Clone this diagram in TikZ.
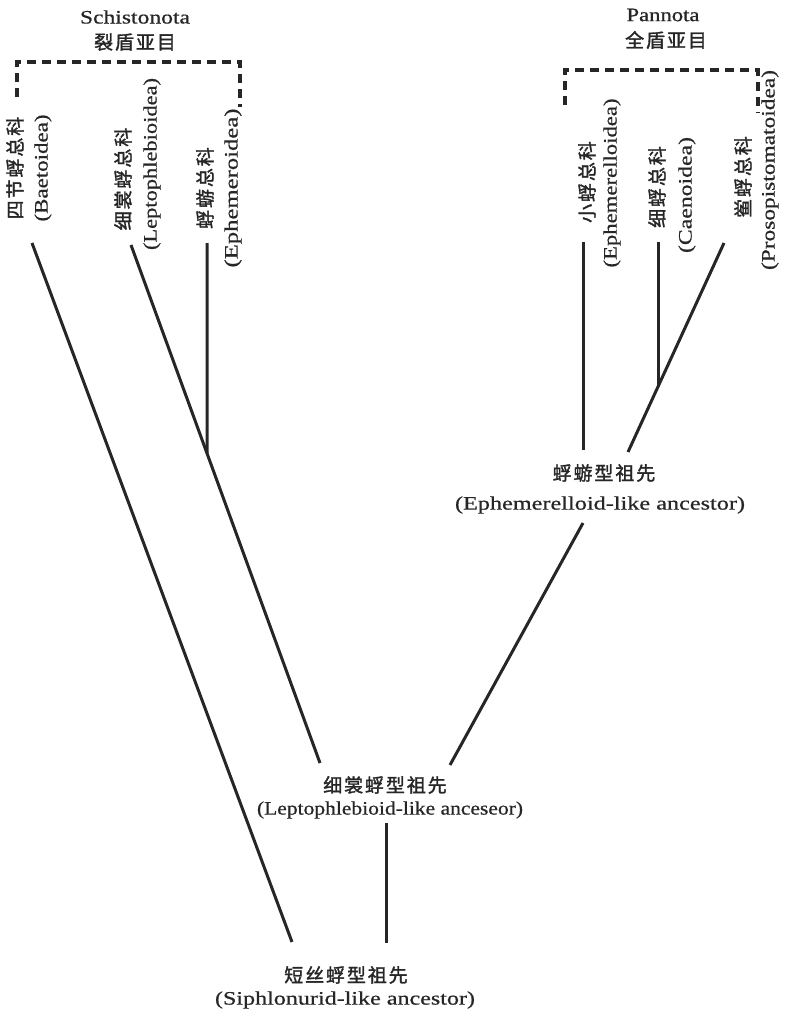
\documentclass[tikz,border=0pt]{standalone}
\usepackage{fontspec}
\usepackage{graphicx}
\setmainfont{Liberation Serif}[FakeBold=0.6]
\newfontfamily\cjk{Noto Sans CJK SC}[FakeBold=1.6,LetterSpace=10]
\newcommand{\lat}[2]{\resizebox{#1pt}{\height}{\fontsize{19}{22}\selectfont #2}}
\newcommand{\zh}[1]{{\cjk\fontsize{19}{21}\selectfont #1}}
\begin{document}
\begin{tikzpicture}[x=1pt,y=-1pt,
  lbl/.style={inner sep=0pt, text=black!85},
  vlbl/.style={inner sep=0pt, rotate=90, text=black!85},
  branch/.style={line width=3pt, black!85},
  bracket/.style={line width=3.2pt, black!85, dash pattern=on 9pt off 6pt}]
\useasboundingbox (0,0) rectangle (788,1018);
% headers
\node[lbl] (hS) at (135,17) {\lat{110}{Schistonota}};
\node[lbl] (hSc) at (135,42) {\zh{裂盾亚目}};
\node[lbl] (hP) at (663,15) {\lat{73}{Pannota}};
\node[lbl] (hPc) at (666,40) {\zh{全盾亚目}};
% brackets
\draw[bracket] (17,97) -- (17,62) -- (240,62) -- (240,107);
\draw[bracket] (565,105) -- (565,70) -- (758,70) -- (758,113);
% vertical labels
\node[vlbl] (baetC) at (15,168) {\zh{四节蜉总科}};
\node[vlbl] (baetL) at (43,168) {\lat{107}{(Baetoidea)}};
\node[vlbl] (leptC) at (123,179) {\zh{细裳蜉总科}};
\node[vlbl] (leptL) at (152,164) {\lat{172}{(Leptophlebioidea)}};
\node[vlbl] (ephC) at (205,188) {\zh{蜉蝣总科}};
\node[vlbl] (ephL) at (233,188) {\lat{159}{(Ephemeroidea)}};
\node[vlbl] (ephrC) at (587,182) {\zh{小蜉总科}};
\node[vlbl] (ephrL) at (612,183) {\lat{169}{(Ephemerelloidea)}};
\node[vlbl] (caeC) at (657,187) {\zh{细蜉总科}};
\node[vlbl] (caeL) at (687,195) {\lat{116}{(Caenoidea)}};
\node[vlbl] (proC) at (743,177) {\zh{鲎蜉总科}};
\node[vlbl] (proL) at (770,170) {\lat{200}{(Prosopistomatoidea)}};
% ancestors
\node[lbl] (ancEc) at (604,473) {\zh{蜉蝣型祖先}};
\node[lbl] (ancEl) at (600,505) {\lat{290}{(Ephemerelloid-like ancestor)}};
\node[lbl] (ancLc) at (385,785) {\zh{细裳蜉型祖先}};
\node[lbl] (ancLl) at (390,810) {\lat{266}{(Leptophlebioid-like anceseor)}};
\node[lbl] (ancSc) at (346,975) {\zh{短丝蜉型祖先}};
\node[lbl] (ancSl) at (345,1000) {\lat{260}{(Siphlonurid-like ancestor)}};
% branch end points
\coordinate (bT) at (32,243);
\coordinate (bB) at (292,942);
\coordinate (lT) at (131,245);
\coordinate (lB) at (320,763);
\coordinate (eT) at (207,243);
\coordinate (eX) at (207,600);
\coordinate (rT) at (583,242);
\coordinate (rB) at (583,450);
\coordinate (cT) at (658,242);
\coordinate (cX) at (658,500);
\coordinate (pT) at (724,243);
\coordinate (pB) at (628,452);
\coordinate (aT) at (583,523);
\coordinate (aB) at (450,765);
\coordinate (mT) at (386,823);
\coordinate (mB) at (386,943);
% branches
\draw[branch] (bT) -- (bB);
\draw[branch] (lT) -- (lB);
\draw[branch] (eT) -- (intersection of eT--eX and lT--lB);
\draw[branch] (rT) -- (rB);
\draw[branch] (pT) -- (pB);
\draw[branch] (cT) -- (intersection of cT--cX and pT--pB);
\draw[branch] (aT) -- (aB);
\draw[branch] (mT) -- (mB);
\end{tikzpicture}
\end{document}
